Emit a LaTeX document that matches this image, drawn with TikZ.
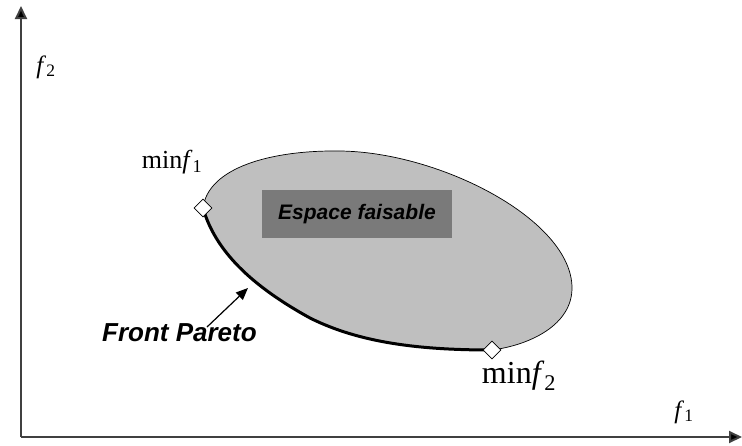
\documentclass[tikz,border=0pt]{standalone}
\usepackage{fontspec}
\setmainfont{Liberation Serif}
\newfontfamily\arialfont{Liberation Sans}
\usetikzlibrary{arrows.meta,shapes.geometric}
\newcommand{\fsub}[1]{\textit{f}\textsubscript{#1}}
\begin{document}
\begin{tikzpicture}[x=1pt,y=-1pt,
  axis/.style={draw=black!75,line width=2pt,-{Triangle[length=13pt,width=12pt,fill=black]}},
  diamark/.style={draw=black,fill=white,diamond,minimum width=18pt,minimum height=18pt,inner sep=0pt,line width=0.6pt},
  lbl/.style={font=\fontsize{25}{25}\selectfont},
  big/.style={font=\arialfont\bfseries\itshape\fontsize{26}{26}\selectfont}]
\useasboundingbox (0,0) rectangle (742,445);
\coordinate (o) at (21,437);
\coordinate (ytop) at (21,6);
\coordinate (xend) at (742,437);
\draw[axis] (o) -- (ytop);
\draw[axis] (o) -- (xend);
\node[lbl] (f2) at (46,67) {\fsub{2}};
\node[lbl] (f1) at (684,412) {\fsub{1}};
% feasible region
\coordinate (p1) at (203,208);
\coordinate (p2) at (492,350);
\fill[black!25] (p1) .. controls (208,168) and (270,150) .. (340,151)
  .. controls (440,152) and (572,220) .. (572,288)
  .. controls (572,325) and (530,345) .. (p2)
  .. controls (420,350) and (360,343) .. (310,318)
  .. controls (250,285) and (215,250) .. (p1) -- cycle;
\draw[line width=0.7pt] (p1) .. controls (208,168) and (270,150) .. (340,151)
  .. controls (440,152) and (572,220) .. (572,288)
  .. controls (572,325) and (530,345) .. (p2);
\draw[line width=3pt] (p2) .. controls (420,350) and (360,343) .. (310,318)
  .. controls (250,285) and (215,250) .. (p1);
\node[diamark] (m1) at (p1) {};
\node[diamark] (m2) at (p2) {};
\node[font=\fontsize{26}{26}\selectfont] (mf1) at (172,162) {min\fsub{1}};
\node[font=\fontsize{32}{32}\selectfont] (mf2) at (519,376) {min\fsub{2}};
% label box
\node[fill=black!52,minimum width=190pt,minimum height=48pt,inner sep=0pt,
  font=\arialfont\bfseries\itshape\fontsize{21}{21}\selectfont] (esp) at (357,214) {Espace faisable};
% front pareto
\node[big,anchor=west,inner sep=0pt] (fp) at (102,333) {Front Pareto};
\coordinate (ah) at (248,288);
\coordinate (at) at (207,327);
\draw[line width=1.2pt,-{Triangle[length=12pt,width=10pt]}] (at) -- (ah);
\end{tikzpicture}
\end{document}
